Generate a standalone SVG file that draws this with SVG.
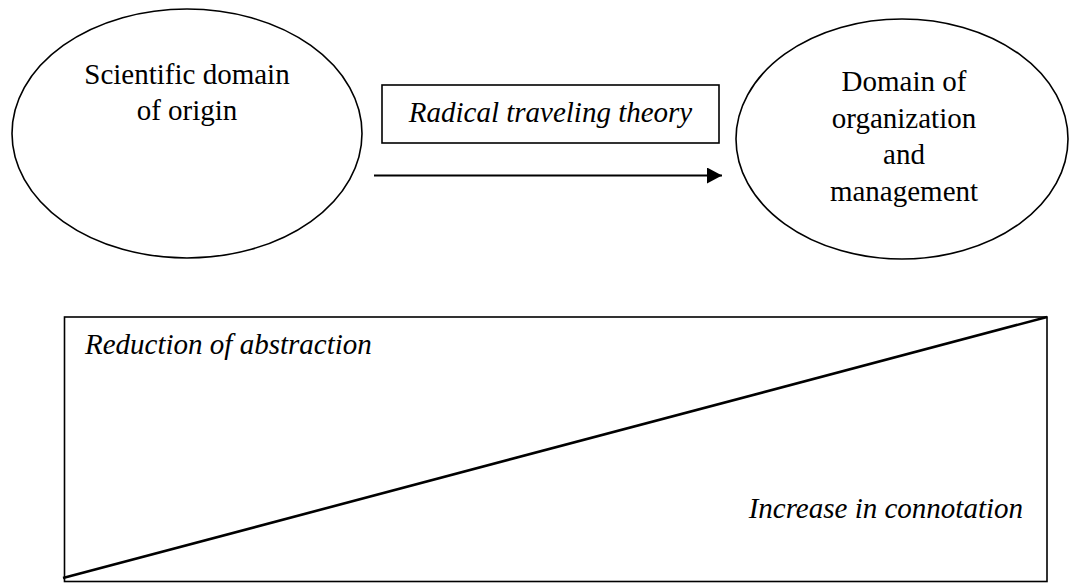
<svg xmlns="http://www.w3.org/2000/svg" width="1069" height="583" viewBox="0 0 1069 583">
  <style>
    .shape { fill: #ffffff; stroke: #000000; stroke-width: 1.6; }
    .label { font-family: 'Liberation Serif', 'Times New Roman', Tinos, 'DejaVu Serif', serif; font-size: 29px; fill: #000000; }
    .it { font-style: italic; }
    .mid { text-anchor: middle; }
    .conn { stroke: #000000; fill: none; }
  </style>
  <defs>
    <marker id="arrowhead" markerWidth="15" markerHeight="16" refX="15" refY="8" orient="auto" markerUnits="userSpaceOnUse">
      <path d="M0,0 L15,8 L0,16 Z" fill="#000000"/>
    </marker>
  </defs>
  <rect width="1069" height="583" fill="#ffffff"/>

  <g id="origin-domain">
    <ellipse class="shape" cx="187" cy="133.5" rx="175" ry="124.5"/>
    <text class="label mid" x="187" y="84" font-family="Liberation Serif, serif">Scientific domain</text>
    <text class="label mid" x="187" y="120" font-family="Liberation Serif, serif">of origin</text>
  </g>

  <g id="theory-label">
    <rect class="shape" x="382" y="85" width="337" height="58"/>
    <text class="label it mid" x="550.5" y="122">Radical traveling theory</text>
  </g>

  <g id="target-domain">
    <ellipse class="shape" cx="902" cy="139" rx="166" ry="120"/>
    <text class="label mid" x="904" y="91">Domain of</text>
    <text class="label mid" x="904" y="128">organization</text>
    <text class="label mid" x="904" y="164">and</text>
    <text class="label mid" x="904" y="201">management</text>
  </g>

  <g id="gradient-panel">
    <rect class="shape" x="64.5" y="317" width="982.5" height="264.5"/>
    <text class="label it" x="85" y="354">Reduction of abstraction</text>
    <text class="label it" x="1023" y="518" text-anchor="end">Increase in connotation</text>
  </g>

  <g id="connectors">
    <line class="conn" x1="374" y1="175.5" x2="722" y2="175.5" stroke-width="2.2" marker-end="url(#arrowhead)"/>
    <line class="conn" x1="63" y1="578" x2="1047" y2="317" stroke-width="2.6"/>
  </g>
</svg>
